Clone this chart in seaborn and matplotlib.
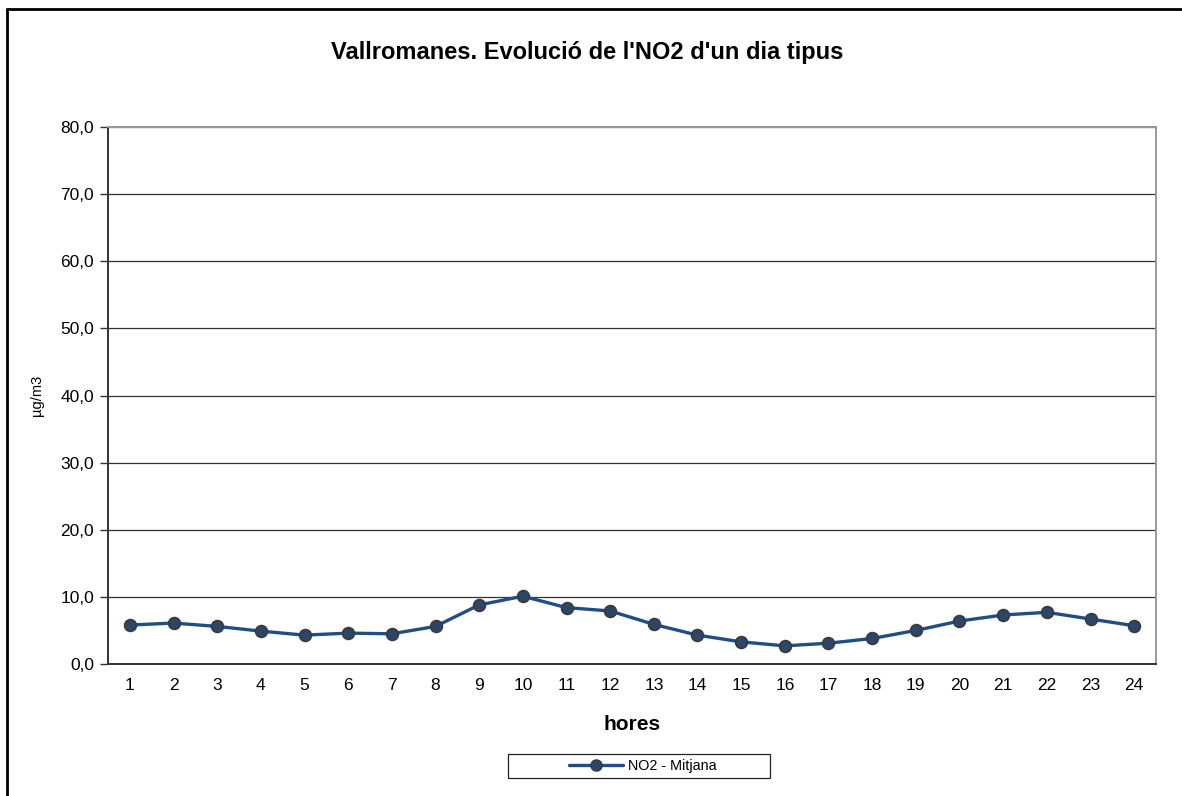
import matplotlib
matplotlib.use("Agg")
import matplotlib.pyplot as plt
import matplotlib.ticker as mticker
from matplotlib.lines import Line2D
from matplotlib.patches import Rectangle
import pandas as pd
import seaborn as sns

hores = list(range(1, 25))
no2 = [5.8, 6.1, 5.6, 4.9, 4.3, 4.6, 4.5, 5.6, 8.8, 10.1, 8.4, 7.9,
       5.9, 4.3, 3.3, 2.7, 3.1, 3.8, 5.0, 6.4, 7.3, 7.7, 6.7, 5.7]
serie = "NO2 - Mitjana"

df = pd.DataFrame({"hores": hores, "valor": no2})

sns.set_style("white")
plt.rcParams["font.family"] = ["Liberation Sans", "DejaVu Sans"]
plt.rcParams["text.color"] = "black"
plt.rcParams["xtick.color"] = "black"
plt.rcParams["ytick.color"] = "black"
plt.rcParams["axes.labelcolor"] = "black"

W, H = 1182, 796
fig = plt.figure(figsize=(W / 100, H / 100), dpi=100)
ax = fig.add_axes([108 / W, 1 - 664 / H, 1048 / W, 537 / H])

line_col = "#1f4e85"
sns.lineplot(data=df, x="hores", y="valor", ax=ax, color=line_col, linewidth=2.4,
             marker="o", markersize=8.5, markerfacecolor="#2b4668",
             markeredgecolor="#3a3a3a", markeredgewidth=1.2)

ax.set_xlim(0.5, 24.5)
ax.set_ylim(0, 80)
ax.set_yticks(range(0, 81, 10))
ax.yaxis.set_major_formatter(mticker.FuncFormatter(lambda v, p: f"{v:.1f}".replace(".", ",")))
ax.set_xticks(hores)
ax.set_xticks([h + 0.5 for h in range(0, 25)], minor=True)
ax.tick_params(axis="x", which="major", length=0, labelsize=12.5, pad=10)
ax.tick_params(axis="x", which="minor", length=6, width=1, color="#333333", direction="out")
ax.tick_params(axis="y", which="major", length=6, width=1, color="#333333", direction="out",
               labelsize=12.5, left=True, pad=4)
ax.grid(axis="y", color="#333333", linewidth=0.9)
ax.set_axisbelow(True)

for s in ["left", "bottom"]:
    ax.spines[s].set_color("#333333")
    ax.spines[s].set_linewidth(1.4)
for s in ["right", "top"]:
    ax.spines[s].set_color("#999999")
    ax.spines[s].set_linewidth(1.4)

ax.set_xlabel("hores", fontsize=15, fontweight="bold", labelpad=16)
ax.set_ylabel("µg/m3", fontsize=10.5, labelpad=12)
fig.suptitle("Vallromanes. Evolució de l'NO2 d'un dia tipus", fontsize=17, fontweight="bold",
             x=587 / W, y=1 - 52 / H, va="center")

handle = Line2D([], [], color=line_col, linewidth=2.4, marker="o", markersize=8,
                markerfacecolor="#2b4668", markeredgecolor="#3a3a3a")
leg = fig.legend([handle], [serie], loc="center", bbox_to_anchor=(643 / W, 1 - 766 / H),
                 fontsize=10.4, frameon=False, handlelength=3.7, handletextpad=0.4,
                 borderpad=0, borderaxespad=0)

# legend box, chart frame
fig.add_artist(Rectangle((508 / W, 1 - 778 / H), 262 / W, 24 / H, fill=False,
                         edgecolor="#222222", linewidth=0.9))
fig.add_artist(Line2D([7 / W, 1.0], [1 - 9 / H, 1 - 9 / H], color="black", linewidth=2))
fig.add_artist(Line2D([7 / W, 7 / W], [0, 1 - 9 / H], color="black", linewidth=2))

fig.savefig("out.png", dpi=100)
